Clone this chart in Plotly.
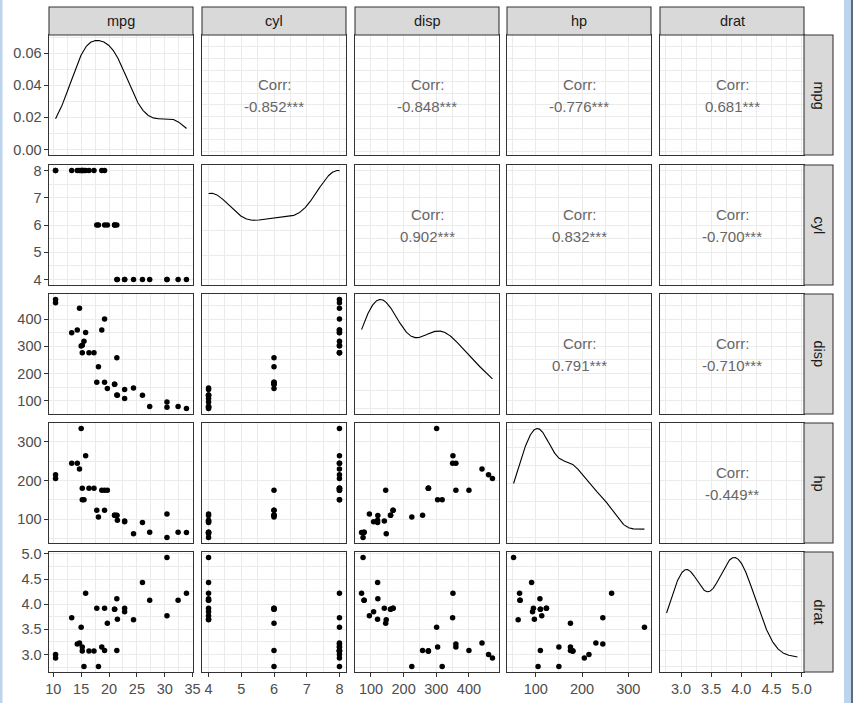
import math
import numpy as np
import plotly.graph_objects as go

# ---- data (mtcars columns) ----
var_names = ["mpg", "cyl", "disp", "hp", "drat"]
mpg = [21.0, 21.0, 22.8, 21.4, 18.7, 18.1, 14.3, 24.4, 22.8, 19.2, 17.8, 16.4, 17.3, 15.2, 10.4, 10.4,
       14.7, 32.4, 30.4, 33.9, 21.5, 15.5, 15.2, 13.3, 19.2, 27.3, 26.0, 30.4, 15.8, 19.7, 15.0, 21.4]
cyl = [6, 6, 4, 6, 8, 6, 8, 4, 4, 6, 6, 8, 8, 8, 8, 8, 8, 4, 4, 4, 4, 8, 8, 8, 8, 4, 4, 4, 8, 6, 8, 4]
disp = [160, 160, 108, 258, 360, 225, 360, 146.7, 140.8, 167.6, 167.6, 275.8, 275.8, 275.8, 472, 460,
        440, 78.7, 75.7, 71.1, 120.1, 318, 304, 350, 400, 79, 120.3, 95.1, 351, 145, 301, 121]
hp = [110, 110, 93, 110, 175, 105, 245, 62, 95, 123, 123, 180, 180, 180, 205, 215, 230, 66, 52, 65,
      97, 150, 150, 245, 175, 66, 91, 113, 264, 175, 335, 109]
drat = [3.90, 3.90, 3.85, 3.08, 3.15, 2.76, 3.21, 3.69, 3.92, 3.92, 3.92, 3.07, 3.07, 3.07, 2.93, 3.00,
        3.23, 4.08, 4.93, 4.22, 3.70, 2.76, 3.15, 3.73, 3.08, 4.08, 4.43, 3.77, 4.22, 3.62, 3.54, 4.11]
corr_labels = ["-0.852***", "-0.848***", "-0.776***", "0.681***",
               "0.902***", "0.832***", "-0.700***",
               "0.791***", "-0.710***",
               "-0.449**"]
tick_steps = [5, 1, 100, 100, 0.5]
tick_formats = ["", "", "", "", ".1f"]

data = [mpg, cyl, disp, hp, drat]

# ---- layout geometry (pixels) ----
W, H = 853, 703
col_left = [49, 202, 355, 507, 660]
row_top = [35, 165, 294, 423, 552]
PW, PH = 144, 120
strip_top = 7
strip_right = 833

FONT = "Liberation Sans, Arial, sans-serif"
GRID = "#EBEBEB"
BORDER = "#333333"


def kde(vals):
    v = np.asarray(vals, float)
    n = len(v)
    sd = v.std(ddof=1)
    q75, q25 = np.percentile(v, [75, 25])
    lo = min(sd, (q75 - q25) / 1.34)
    bw = 0.9 * lo * n ** (-0.2)
    xs = np.linspace(v.min(), v.max(), 512)
    ys = np.exp(-0.5 * ((xs[:, None] - v[None, :]) / bw) ** 2).sum(axis=1) / (n * bw * math.sqrt(2 * math.pi))
    return xs, ys


def expand(lo, hi, f=0.05):
    s = hi - lo
    return [lo - f * s, hi + f * s]


def nice_step(span, n=4):
    raw = span / n
    mag = 10 ** math.floor(math.log10(raw))
    for m in [1, 2, 2.5, 5, 10]:
        if m * mag >= raw:
            return m * mag
    return 10 * mag


ranges = [expand(min(d), max(d)) for d in data]

fig = go.Figure()
layout = {}
annotations = []
shapes = []
ci = 0
for i in range(5):
    for j in range(5):
        k = i * 5 + j + 1
        xa = "xaxis" if k == 1 else f"xaxis{k}"
        ya = "yaxis" if k == 1 else f"yaxis{k}"
        xr = "x" if k == 1 else f"x{k}"
        yr = "y" if k == 1 else f"y{k}"
        x0 = col_left[j] / W
        x1 = (col_left[j] + PW) / W
        y1 = 1 - row_top[i] / H
        y0 = 1 - (row_top[i] + PH) / H

        xstep = tick_steps[j]
        xaxis = dict(domain=[x0, x1], anchor=yr, range=ranges[j], tickmode="linear", tick0=0,
                     dtick=xstep, showgrid=True, gridcolor=GRID, gridwidth=1.07,
                     minor=dict(dtick=xstep / 2, tick0=0, showgrid=True, gridcolor=GRID, gridwidth=0.55),
                     zeroline=False, showline=True, mirror=True, linecolor=BORDER, linewidth=1.07,
                     showticklabels=(i == 4), ticks="outside" if i == 4 else "",
                     ticklen=3.5, tickwidth=1.07, tickcolor=BORDER, tickformat=tick_formats[j],
                     tickfont=dict(family=FONT, size=14.5, color="#4D4D4D"), fixedrange=True,
                     automargin=False)

        if i == j:
            xs, ys = kde(data[i])
            ymax = ys.max()
            yrange = [-0.05 * ymax, 1.05 * ymax]
            ystep = nice_step(ymax * 1.1)
            yaxis = dict(domain=[y0, y1], anchor=xr, range=yrange, tickmode="linear", tick0=0,
                         dtick=ystep, tickformat=".2f",
                         minor=dict(dtick=ystep / 2, tick0=0, showgrid=True, gridcolor=GRID, gridwidth=0.55))
            fig.add_trace(go.Scatter(x=xs, y=ys, mode="lines", line=dict(color="black", width=1.1),
                                     xaxis=xr, yaxis=yr, showlegend=False, hoverinfo="skip"))
        else:
            ystep = tick_steps[i]
            yaxis = dict(domain=[y0, y1], anchor=xr, range=ranges[i], tickmode="linear", tick0=0,
                         dtick=ystep, tickformat=tick_formats[i],
                         minor=dict(dtick=ystep / 2, tick0=0, showgrid=True, gridcolor=GRID, gridwidth=0.55))
            if i > j:
                fig.add_trace(go.Scatter(x=data[j], y=data[i], mode="markers",
                                         marker=dict(color="black", size=5.5),
                                         xaxis=xr, yaxis=yr, showlegend=False, hoverinfo="skip"))
            else:
                fig.add_trace(go.Scatter(x=[None], y=[None], mode="markers", xaxis=xr, yaxis=yr,
                                         showlegend=False, hoverinfo="skip"))
                for txt, sh in (("Corr:", 11), (corr_labels[ci], -11)):
                    annotations.append(dict(x=0.5, y=0.5, xref=f"{xr} domain", yref=f"{yr} domain",
                                            xanchor="center", yanchor="middle",
                                            text=txt, showarrow=False, yshift=sh,
                                            font=dict(family=FONT, size=15, color="#666666")))
                ci += 1
        yaxis.update(showgrid=True, gridcolor=GRID, gridwidth=1.07, zeroline=False, showline=True,
                     mirror=True, linecolor=BORDER, linewidth=1.07,
                     showticklabels=(j == 0), ticks="outside" if j == 0 else "",
                     ticklen=3.5, tickwidth=1.07, tickcolor=BORDER,
                     tickfont=dict(family=FONT, size=14.5, color="#4D4D4D"), fixedrange=True,
                     automargin=False)
        layout[xa] = xaxis
        layout[ya] = yaxis

# strips
for j, name in enumerate(var_names):
    shapes.append(dict(type="rect", xref="paper", yref="paper",
                       x0=col_left[j] / W, x1=(col_left[j] + PW) / W,
                       y0=1 - row_top[0] / H, y1=1 - strip_top / H,
                       fillcolor="#D9D9D9", line=dict(color=BORDER, width=1.07), layer="above"))
    annotations.append(dict(x=(col_left[j] + PW / 2) / W, y=1 - (strip_top + row_top[0]) / 2 / H,
                            xref="paper", yref="paper", xanchor="center", yanchor="middle",
                            text=name, showarrow=False,
                            font=dict(family=FONT, size=14.5, color="#1A1A1A")))
for i, name in enumerate(var_names):
    x0p = col_left[4] + PW
    shapes.append(dict(type="rect", xref="paper", yref="paper",
                       x0=x0p / W, x1=strip_right / W,
                       y0=1 - (row_top[i] + PH) / H, y1=1 - row_top[i] / H,
                       fillcolor="#D9D9D9", line=dict(color=BORDER, width=1.07), layer="above"))
    annotations.append(dict(x=(x0p + strip_right) / 2 / W, y=1 - (row_top[i] + PH / 2) / H,
                            xref="paper", yref="paper", xanchor="center", yanchor="middle",
                            text=name, showarrow=False, textangle=90,
                            font=dict(family=FONT, size=14.5, color="#1A1A1A")))

# window frame edges seen in the screenshot
shapes.append(dict(type="rect", xref="paper", yref="paper", x0=0, x1=2.5 / W, y0=0, y1=1,
                   fillcolor="#BCD4EC", line=dict(width=0), layer="above"))
shapes.append(dict(type="rect", xref="paper", yref="paper", x0=844 / W, x1=1, y0=0, y1=1,
                   fillcolor="#BCD4EC", line=dict(width=0), layer="above"))
shapes.append(dict(type="line", xref="paper", yref="paper", x0=852 / W, x1=852 / W, y0=0, y1=1,
                   line=dict(color="#3C4A5A", width=1.5), layer="above"))

fig.update_layout(**layout)
fig.update_layout(width=W, height=H, margin=dict(l=0, r=0, t=0, b=0, autoexpand=False),
                  paper_bgcolor="white", plot_bgcolor="white",
                  annotations=annotations, shapes=shapes, showlegend=False,
                  font=dict(family=FONT))
fig.write_html("out.html", config={"displayModeBar": False},
               post_script="document.body.style.margin='0';document.body.style.padding='0';"
                           "document.body.style.overflow='hidden';")
